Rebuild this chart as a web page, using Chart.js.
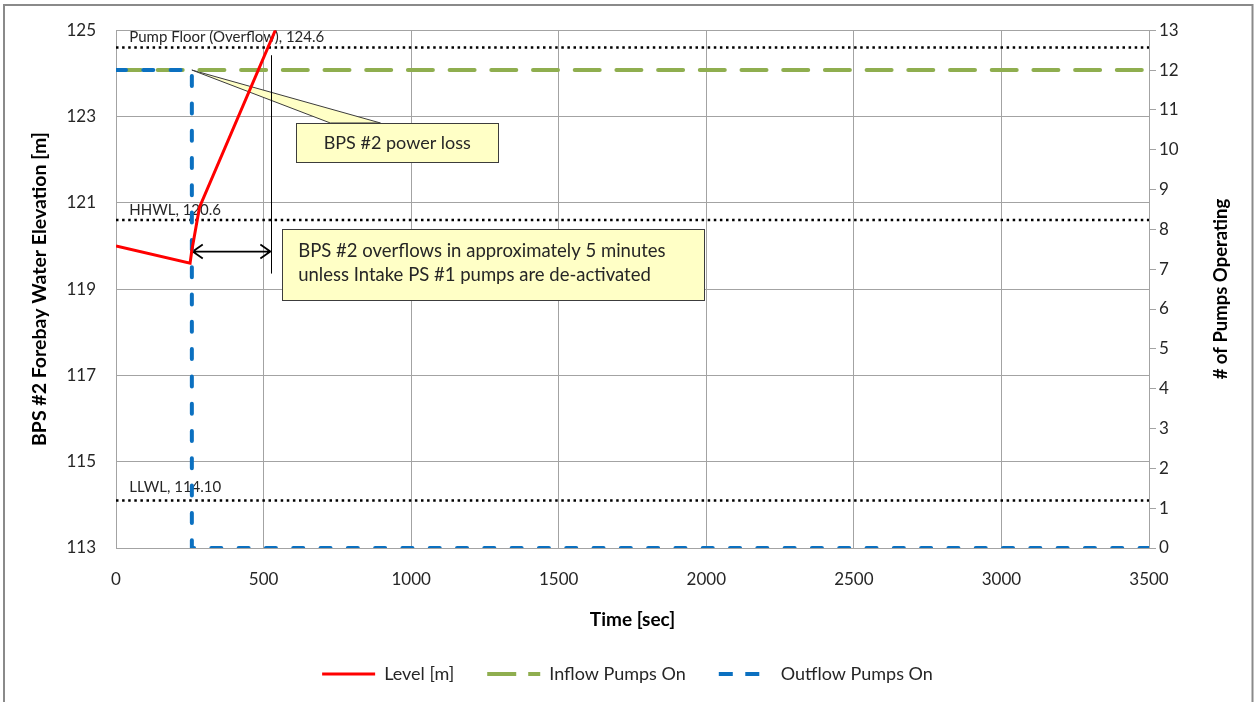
<!DOCTYPE html>
<html><head><meta charset="utf-8">
<script src="https://cdn.jsdelivr.net/npm/chart.js@4.4.0/dist/chart.umd.min.js"></script>
<style>html,body{margin:0;padding:0;background:#fff;overflow:hidden}#wrap{width:1255px;height:702px;position:relative}</style>
</head><body><div id="wrap"><canvas id="c" width="1255" height="702"></canvas></div>
<script>
// ---- data ----
const timeLevel = [0, 251, 257, 283, 540];
const levelValues = [120.0, 119.6, 119.9, 120.9, 125.0];
const timeInflow = [0, 3500];
const inflowPumps = [12, 12];
const timeOutflow = [0, 257, 257, 3500];
const outflowPumps = [12, 12, 0, 0];
const refNames = ['Pump Floor (Overflow), 124.6', 'HHWL, 120.6', 'LLWL, 114.10'];
const refValues = [124.6, 120.6, 114.1];
const seriesNames = ['Level [m]', 'Inflow Pumps On', 'Outflow Pumps On'];
const xTickValues = [0, 500, 1000, 1500, 2000, 2500, 3000, 3500];
const leftTickValues = [113, 115, 117, 119, 121, 123, 125];
const rightTickValues = [0,1,2,3,4,5,6,7,8,9,10,11,12,13];
const callout1Text = ['BPS #2 power loss'];
const callout2Text = ['BPS #2 overflows in approximately 5 minutes', 'unless Intake PS #1 pumps are de-activated'];

const FONT = 'Lato, "Open Sans", sans-serif';
const TXT = '#262626';
const GRID = '#a3a3a3';
const refLabelOffsets = [10.5, 9.5, 13.3];

const xy = (xs, ys) => xs.map((x, i) => ({x, y: ys[i]}));

const refDatasets = refValues.map((v, i) => ({
  label: refNames[i],
  data: xy([xTickValues[0], xTickValues[xTickValues.length - 1]], [v, v]),
  yAxisID: 'y', borderColor: '#000', borderWidth: 2.5, borderDash: [2.5, 3.6],
  pointRadius: 0, order: 5
}));

const legendDash = [[], [29, 12], [14, 12.5]];

const annot = {
  id: 'annot',
  beforeDraw(chart) {
    const ctx = chart.ctx;
    ctx.save();
    ctx.fillStyle = '#fff';
    ctx.fillRect(0, 0, chart.width, chart.height);
    ctx.strokeStyle = '#8a8a8a';
    ctx.lineWidth = 2;
    ctx.strokeRect(4, 5, chart.width - 6.5, chart.height + 10);
    ctx.restore();
  },
  beforeDatasetsDraw(chart) {
    const {ctx, scales: {x, y, y2}} = chart;
    ctx.save();
    // reference line labels
    ctx.font = '15px ' + FONT;
    ctx.fillStyle = TXT;
    ctx.textBaseline = 'middle';
    ctx.textAlign = 'left';
    const lx = x.getPixelForValue(45);
    refValues.forEach((v, i) => {
      ctx.fillText(refNames[i], lx, y.getPixelForValue(v) - refLabelOffsets[i]);
    });
    // callout 1 (pointer + box)
    const b1 = {l: x.getPixelForValue(610), r: x.getPixelForValue(1296), t: y.getPixelForValue(122.85), b: y.getPixelForValue(121.94)};
    const tipX = x.getPixelForValue(257), tipY = y2.getPixelForValue(12);
    ctx.fillStyle = '#ffffc6';
    ctx.strokeStyle = '#3c3c3c';
    ctx.lineWidth = 1;
    ctx.beginPath();
    ctx.moveTo(x.getPixelForValue(726), b1.t);
    ctx.lineTo(tipX, tipY);
    ctx.lineTo(x.getPixelForValue(896), b1.t);
    ctx.closePath();
    ctx.fill(); ctx.stroke();
    ctx.fillRect(b1.l, b1.t, b1.r - b1.l, b1.b - b1.t);
    ctx.strokeRect(Math.round(b1.l) + 0.5, Math.round(b1.t) + 0.5, Math.round(b1.r - b1.l), Math.round(b1.b - b1.t));
    ctx.font = '18px ' + FONT;
    ctx.fillStyle = TXT;
    ctx.textAlign = 'center';
    ctx.textBaseline = 'middle';
    ctx.fillText(callout1Text[0], (b1.l + b1.r) / 2, (b1.t + b1.b) / 2 + 1);
    // callout 2 box
    const b2 = {l: x.getPixelForValue(563), r: x.getPixelForValue(1994), t: y.getPixelForValue(120.39), b: y.getPixelForValue(118.745)};
    ctx.fillStyle = '#ffffc6';
    ctx.fillRect(b2.l, b2.t, b2.r - b2.l, b2.b - b2.t);
    ctx.strokeRect(Math.round(b2.l) + 0.5, Math.round(b2.t) + 0.5, Math.round(b2.r - b2.l), Math.round(b2.b - b2.t));
    ctx.font = '18.5px ' + FONT;
    ctx.fillStyle = TXT;
    ctx.textAlign = 'left';
    ctx.fillText(callout2Text[0], b2.l + 16, b2.t + 22);
    ctx.fillText(callout2Text[1], b2.l + 16, b2.t + 46);
    // vertical marker line & double arrow
    const mx = Math.round(x.getPixelForValue(525)) + 0.5;
    ctx.strokeStyle = '#000';
    ctx.lineWidth = 1;
    ctx.beginPath();
    ctx.moveTo(mx, y.getPixelForValue(124.42));
    ctx.lineTo(mx, y.getPixelForValue(119.36));
    ctx.stroke();
    const ay = y.getPixelForValue(119.869);
    const ax1 = x.getPixelForValue(260), ax2 = x.getPixelForValue(523);
    ctx.lineWidth = 1.8;
    ctx.beginPath();
    ctx.moveTo(ax1, ay); ctx.lineTo(ax2, ay);
    ctx.moveTo(ax1 + 10, ay - 7); ctx.lineTo(ax1, ay); ctx.lineTo(ax1 + 10, ay + 7);
    ctx.moveTo(ax2 - 10, ay - 7); ctx.lineTo(ax2, ay); ctx.lineTo(ax2 - 10, ay + 7);
    ctx.stroke();
    ctx.restore();
  },
  afterDraw(chart) {
    const {ctx, scales: {y2}} = chart;
    ctx.save();
    ctx.translate(1221, (y2.top + y2.bottom) / 2);
    ctx.rotate(-Math.PI / 2);
    ctx.font = 'bold 18.5px ' + FONT;
    ctx.fillStyle = '#000';
    ctx.textAlign = 'center';
    ctx.textBaseline = 'middle';
    ctx.fillText('# of Pumps Operating', 0, 0);
    ctx.restore();
  },
  beforeUpdate(chart) {
    const lg = chart.legend;
    if (lg && !lg._patched) {
      const f = lg.fit;
      lg.fit = function () { f.call(this); this.height = 70; };
      lg._patched = true;
    }
  }
};

new Chart(document.getElementById('c'), {
  type: 'line',
  data: {
    datasets: [
      {label: seriesNames[0], data: xy(timeLevel, levelValues), yAxisID: 'y', borderColor: '#ff0000', borderWidth: 3, pointRadius: 0, tension: 0, order: 0},
      {label: seriesNames[1], data: xy(timeInflow, inflowPumps), yAxisID: 'y2', borderColor: '#8fae4f', borderWidth: 4, borderDash: [25, 16.7], borderCapStyle: 'round', pointRadius: 0, order: 2},
      {label: seriesNames[2], data: xy(timeOutflow, outflowPumps), yAxisID: 'y2', borderColor: '#0b70c0', borderWidth: 4, borderDash: [10, 17.3], borderCapStyle: 'round', pointRadius: 0, order: 1},
      ...refDatasets
    ]
  },
  options: {
    responsive: false,
    devicePixelRatio: 1,
    animation: false,
    events: [],
    layout: {padding: {top: 30, bottom: 0, left: 0, right: 0}},
    scales: {
      x: {
        type: 'linear', min: xTickValues[0], max: xTickValues[xTickValues.length - 1],
        afterBuildTicks: s => { s.ticks = xTickValues.map(v => ({value: v})); },
        afterFit: s => { s.height = 84; },
        grid: {color: GRID, drawTicks: false, lineWidth: 1},
        border: {color: GRID},
        ticks: {font: {family: FONT, size: 17}, color: TXT, padding: 21, maxRotation: 0, callback: v => String(v)},
        title: {display: true, text: 'Time [sec]', font: {family: FONT, size: 19, weight: 'bold'}, color: '#000', padding: {top: 0, bottom: 1}}
      },
      y: {
        position: 'left', min: leftTickValues[0], max: leftTickValues[leftTickValues.length - 1],
        afterBuildTicks: s => { s.ticks = leftTickValues.map(v => ({value: v})); },
        afterFit: s => { s.width = 116; },
        grid: {color: GRID, drawTicks: false},
        border: {color: GRID},
        ticks: {font: {family: FONT, size: 17}, color: TXT, padding: 20, callback: v => String(v)},
        title: {display: true, text: 'BPS #2 Forebay Water Elevation [m]', font: {family: FONT, size: 19.5, weight: 'bold'}, color: '#000', padding: {top: 28, bottom: 0}}
      },
      y2: {
        position: 'right', min: rightTickValues[0], max: rightTickValues[rightTickValues.length - 1],
        afterBuildTicks: s => { s.ticks = rightTickValues.map(v => ({value: v})); },
        afterFit: s => { s.width = 106; },
        grid: {drawOnChartArea: false, drawTicks: true, tickLength: 7, color: GRID},
        border: {color: GRID},
        ticks: {font: {family: FONT, size: 17}, color: TXT, padding: 3, callback: v => String(v)}
      }
    },
    plugins: {
      tooltip: {enabled: false},
      legend: {
        position: 'bottom',
        labels: {
          usePointStyle: true, pointStyle: 'line', pointStyleWidth: 53, padding: 33,
          font: {family: FONT, size: 18}, color: TXT,
          generateLabels: chart => chart.data.datasets.slice(0, 3).map((ds, i) => ({
            text: ds.label, strokeStyle: ds.borderColor, fillStyle: ds.borderColor,
            lineWidth: i === 0 ? 3 : 4, lineDash: legendDash[i], lineCap: 'butt',
            pointStyle: 'line', datasetIndex: i, hidden: false, fontColor: TXT
          }))
        }
      }
    }
  },
  plugins: [annot]
});
</script>
</body></html>
